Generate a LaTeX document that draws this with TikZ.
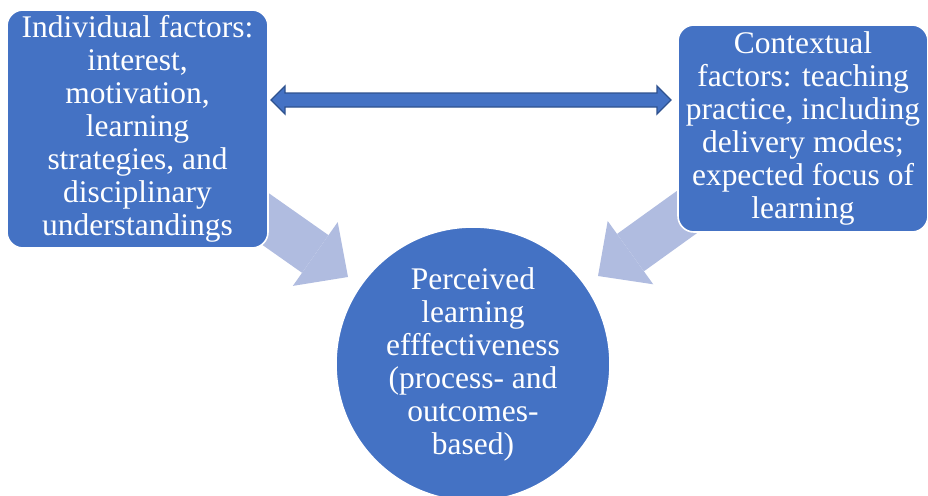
\documentclass[tikz,border=0pt]{standalone}
\usepackage{fontspec}
\setmainfont{Liberation Serif}
\usetikzlibrary{arrows.meta,calc,backgrounds}
\definecolor{boxblue}{HTML}{4472C4}
\definecolor{edgeblue}{HTML}{2F528F}
\definecolor{paleblue}{HTML}{B0BCE0}
\def\bigtext{\fontsize{23.6pt}{24.75pt}\selectfont}
\tikzset{
  factor/.style={draw=white, line width=1.2pt, fill=boxblue, rounded corners=12pt,
    text=white, align=center, font=\bigtext, inner sep=0pt},
  outcome/.style={factor, circle, minimum size=205.5pt},
  flow/.style={draw=paleblue, line width=34.5pt,
    -{Triangle[length=30pt, width=58.5pt, line width=0pt]}},
  linkarrow/.style={draw=edgeblue, line width=1pt, fill=boxblue, line join=miter}
}

\begin{document}
\begin{tikzpicture}[x=0.75pt, y=-0.75pt]
  \useasboundingbox (0,0) rectangle (928,496);
  % the two groups of factors and the outcome
  \node[factor, minimum width=195.75pt, minimum height=178.5pt] (indiv) at (137.5,129)
    {Individual factors:\\interest,\\motivation,\\learning\\strategies, and\\disciplinary\\understandings};
  \node[factor, minimum width=187.5pt, minimum height=155.25pt] (context) at (803,128.5)
    {Contextual\\factors: teaching\\practice, including\\delivery modes;\\expected focus of\\learning};
  \node[outcome] (perc) at (473,364)
    {Perceived\\learning\\efffectiveness\\(process- and\\outcomes-\\based)};
  % arrow tips
  \coordinate (tipL) at (348,277);
  \coordinate (tipR) at (598,276);
  \coordinate (dl) at (271,100);
  \coordinate (dr) at (671,100);
  % influence arrows, behind the boxes
  \begin{scope}[on background layer]
    \draw[flow] (indiv.center) -- (tipL);
    \draw[flow] (context.center) -- (tipR);
  \end{scope}
  % two-way link
  \draw[linkarrow] (dl) -- ++(14,-14) -- ++(0,7) -- ($(dr)+(-14,-7)$) -- ++(0,-7)
    -- (dr) -- ++(-14,14) -- ++(0,-7) -- ($(dl)+(14,7)$) -- ++(0,7) -- cycle;
\end{tikzpicture}
\end{document}
